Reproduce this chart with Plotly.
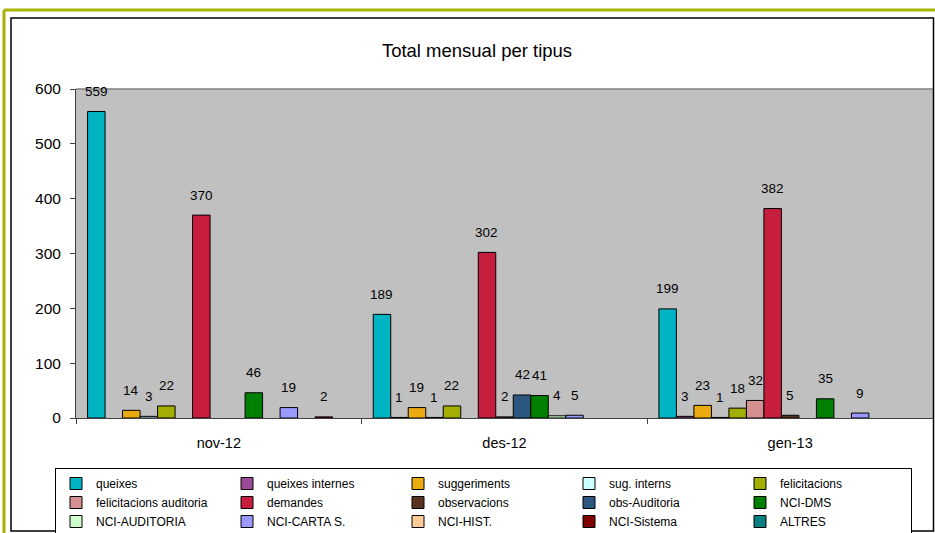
import plotly.graph_objects as go

# ---------------- data ----------------
categories = ["nov-12", "des-12", "gen-13"]

series_names = [
    "queixes", "queixes internes", "suggeriments", "sug. interns", "felicitacions",
    "felicitacions auditoria", "demandes", "observacions", "obs-Auditoria", "NCI-DMS",
    "NCI-AUDITORIA", "NCI-CARTA S.", "NCI-HIST.", "NCI-Sistema", "ALTRES",
]

queixes = [559, 189, 199]
queixes_internes = [None, 1, 3]
suggeriments = [14, 19, 23]
sug_interns = [3, 1, 1]
felicitacions = [22, 22, 18]
felicitacions_auditoria = [None, None, 32]
demandes = [370, 302, 382]
observacions = [None, 2, 5]
obs_auditoria = [None, 42, None]
nci_dms = [46, 41, 35]
nci_auditoria = [None, 4, None]
nci_carta = [19, 5, 9]
nci_hist = [None, None, None]
nci_sistema = [2, None, None]
altres = [None, None, None]

series_values = [
    queixes, queixes_internes, suggeriments, sug_interns, felicitacions,
    felicitacions_auditoria, demandes, observacions, obs_auditoria, nci_dms,
    nci_auditoria, nci_carta, nci_hist, nci_sistema, altres,
]

colors = [
    "#00B4C4", "#9B4A97", "#EBAA10", "#CCFFFF", "#A2AE02",
    "#D49090", "#C81E3E", "#5A3220", "#2C5880", "#008000",
    "#CCFFCC", "#9999FF", "#FFCC99", "#800000", "#008080",
]

y_ticks = [0, 100, 200, 300, 400, 500, 600]

# ---------------- layout geometry ----------------
W, H = 935, 533
L, R, T, B = 76, 2, 89, 115
plot_w = W - L - R
plot_h = H - T - B
BARGAP = 0.081
n_series = len(series_names)
bar_w = plot_w / len(categories) * (1 - BARGAP) / n_series


def px_x(px):
    return (px - L) / plot_w


def px_y(py):
    return (H - B - py) / plot_h


FONT = "Liberation Sans, Arial, sans-serif"

fig = go.Figure()
for name, vals, col in zip(series_names, series_values, colors):
    fig.add_trace(go.Bar(
        name=name, x=categories, y=vals,
        marker=dict(color=col, line=dict(color="black", width=1)),
        hoverinfo="name+y",
    ))

# data labels
annotations = []
mid = (n_series - 1) / 2
for i, vals in enumerate(series_values):
    for j, v in enumerate(vals):
        if v is None:
            continue
        annotations.append(dict(
            x=categories[j], y=v, xref="x", yref="y",
            text=str(v), showarrow=False,
            xshift=(i - mid) * bar_w, yshift=20,
            xanchor="center", yanchor="middle",
            font=dict(family=FONT, size=13.5, color="black"),
        ))

shapes = [
    # olive outer border
    dict(type="line", xref="paper", yref="paper",
         x0=px_x(4), x1=px_x(935), y0=px_y(10), y1=px_y(10),
         line=dict(color="#A8B400", width=3)),
    dict(type="line", xref="paper", yref="paper",
         x0=px_x(4), x1=px_x(4), y0=px_y(10), y1=px_y(533),
         line=dict(color="#A8B400", width=3)),
    # black chart frame
    dict(type="rect", xref="paper", yref="paper",
         x0=px_x(11), x1=px_x(933.5), y0=px_y(18), y1=px_y(531),
         line=dict(color="black", width=1.5), layer="above"),
    # plot area top border
    dict(type="line", xref="paper", yref="paper",
         x0=0, x1=1, y0=1, y1=1,
         line=dict(color="#808080", width=1.5)),
]

fig.update_layout(
    width=W, height=H,
    margin=dict(l=L, r=R, t=T, b=B, pad=0, autoexpand=False),
    paper_bgcolor="white",
    plot_bgcolor="#C0C0C0",
    barmode="group",
    bargap=BARGAP,
    bargroupgap=0,
    font=dict(family=FONT, color="black"),
    title=dict(text="Total mensual per tipus", x=477 / W, xanchor="center",
               y=1 - 51 / H, yanchor="middle", yref="container", xref="container",
               font=dict(family=FONT, size=18.5, color="black")),
    xaxis=dict(
        type="category", showgrid=False, showline=True, linecolor="#404040", linewidth=1,
        ticks="outside", tickson="boundaries", ticklen=5, tickcolor="#404040",
        tickfont=dict(family=FONT, size=14.5), ticklabelstandoff=12,
        zeroline=False,
    ),
    yaxis=dict(
        range=[0, 600], tickvals=y_ticks, showgrid=False, showline=True,
        linecolor="#404040", linewidth=1, ticks="outside", ticklen=5, tickcolor="#404040",
        tickfont=dict(family=FONT, size=15.5), zeroline=False, ticklabelstandoff=6,
    ),
    legend=dict(
        orientation="h", x=px_x(55), xanchor="left", y=px_y(468), yanchor="top",
        entrywidth=126, entrywidthmode="pixels",
        font=dict(family=FONT, size=12, color="black"),
        bgcolor="white", bordercolor="black", borderwidth=1,
        traceorder="normal", tracegroupgap=0, itemclick=False, itemdoubleclick=False,
    ),
    annotations=annotations,
    shapes=shapes,
    showlegend=True,
)

fig.write_html(
    "out.html",
    config={"displayModeBar": False},
    post_script="document.body.style.margin='0';document.body.style.padding='0';"
                "document.documentElement.style.overflow='hidden';",
)
